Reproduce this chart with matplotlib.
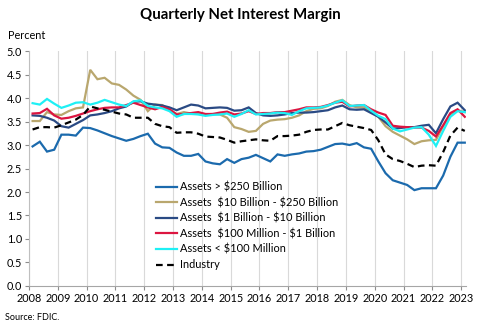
import matplotlib.pyplot as plt
import numpy as np

plt.rcParams['font.family'] = ['Lato', 'DejaVu Sans']
plt.rcParams['text.parse_math'] = False

# quarterly net interest margin (%), 2008Q1 .. 2023Q1
over_250b = [2.97, 3.07, 2.86, 2.90, 3.22, 3.22, 3.20, 3.37, 3.36, 3.31, 3.25, 3.19,
             3.14, 3.09, 3.13, 3.19, 3.24, 3.03, 2.95, 2.94, 2.84, 2.77, 2.77, 2.81,
             2.65, 2.61, 2.59, 2.70, 2.62, 2.70, 2.73, 2.79, 2.72, 2.65, 2.80, 2.77,
             2.80, 2.82, 2.86, 2.87, 2.90, 2.96, 3.02, 3.03, 3.00, 3.04, 2.95, 2.92,
             2.65, 2.40, 2.25, 2.20, 2.15, 2.04, 2.08, 2.08, 2.08, 2.35, 2.75, 3.05, 3.05]
b10_250 = [3.51, 3.51, 3.70, 3.65, 3.64, 3.72, 3.78, 3.80, 4.60, 4.40, 4.43, 4.31,
           4.28, 4.18, 4.05, 3.96, 3.72, 3.86, 3.85, 3.75, 3.66, 3.70, 3.67, 3.66,
           3.65, 3.66, 3.65, 3.58, 3.38, 3.34, 3.28, 3.30, 3.45, 3.52, 3.54, 3.55,
           3.58, 3.63, 3.72, 3.77, 3.78, 3.83, 3.92, 3.96, 3.85, 3.80, 3.80, 3.72,
           3.60, 3.40, 3.28, 3.20, 3.12, 3.02, 3.08, 3.10, 3.11, 3.40, 3.65, 3.74, 3.70]
b1_10 = [3.63, 3.62, 3.58, 3.52, 3.40, 3.37, 3.45, 3.53, 3.63, 3.65, 3.68, 3.72,
         3.78, 3.82, 3.92, 3.93, 3.88, 3.86, 3.84, 3.80, 3.74, 3.80, 3.86, 3.84,
         3.78, 3.79, 3.80, 3.79, 3.73, 3.74, 3.80, 3.68, 3.63, 3.62, 3.63, 3.65,
         3.68, 3.69, 3.69, 3.70, 3.72, 3.74, 3.80, 3.84, 3.76, 3.75, 3.76, 3.68,
         3.60, 3.48, 3.35, 3.36, 3.38, 3.38, 3.41, 3.43, 3.25, 3.55, 3.82, 3.90, 3.74]
m100_1b = [3.67, 3.68, 3.77, 3.63, 3.56, 3.58, 3.62, 3.67, 3.72, 3.76, 3.79, 3.80,
           3.80, 3.85, 3.90, 3.85, 3.80, 3.76, 3.81, 3.76, 3.65, 3.66, 3.68, 3.70,
           3.66, 3.66, 3.69, 3.71, 3.65, 3.67, 3.72, 3.66, 3.68, 3.68, 3.70, 3.70,
           3.73, 3.76, 3.80, 3.80, 3.81, 3.85, 3.90, 3.92, 3.82, 3.84, 3.85, 3.76,
           3.69, 3.64, 3.41, 3.39, 3.38, 3.37, 3.37, 3.30, 3.18, 3.42, 3.68, 3.76, 3.60]
under_100m = [3.89, 3.86, 3.98, 3.88, 3.79, 3.84, 3.90, 3.91, 3.86, 3.90, 3.96, 3.91,
              3.86, 3.83, 3.93, 3.95, 3.83, 3.80, 3.78, 3.72, 3.60, 3.66, 3.66, 3.65,
              3.62, 3.64, 3.65, 3.67, 3.60, 3.66, 3.74, 3.65, 3.66, 3.67, 3.69, 3.68,
              3.64, 3.72, 3.78, 3.79, 3.80, 3.84, 3.90, 3.95, 3.83, 3.84, 3.85, 3.73,
              3.62, 3.55, 3.35, 3.29, 3.33, 3.37, 3.38, 3.22, 2.98, 3.30, 3.60, 3.72, 3.70]
industry = [3.33, 3.38, 3.38, 3.37, 3.42, 3.48, 3.54, 3.64, 3.82, 3.78, 3.75, 3.71,
            3.67, 3.65, 3.58, 3.58, 3.58, 3.45, 3.40, 3.38, 3.26, 3.27, 3.27, 3.24,
            3.18, 3.17, 3.16, 3.11, 3.05, 3.08, 3.10, 3.12, 3.10, 3.09, 3.19, 3.19,
            3.20, 3.22, 3.28, 3.32, 3.33, 3.33, 3.40, 3.47, 3.42, 3.39, 3.36, 3.32,
            3.10, 2.80, 2.70, 2.66, 2.60, 2.53, 2.56, 2.57, 2.56, 2.85, 3.20, 3.37, 3.30]

labels = ["Assets > $250 Billion",
          "Assets  $10 Billion - $250 Billion",
          "Assets  $1 Billion - $10 Billion",
          "Assets  $100 Million - $1 Billion",
          "Assets < $100 Million",
          "Industry"]
colors = ["#1b6aad", "#b9a76e", "#2a4a84", "#dc1540", "#1ef0f5", "black"]
years = list(range(2008, 2024))

x = 2008 + (np.arange(len(industry)) + 0.5) / 4

fig = plt.figure(figsize=(4.8, 3.27), dpi=100)
ax = fig.add_axes([0.0604, 0.1254, 0.9106, 0.7186])

series = [over_250b, b10_250, b1_10, m100_1b, under_100m]
for vals, lab, col in zip(series, labels[:5], colors[:5]):
    ax.plot(x, vals, color=col, lw=1.6, label=lab, solid_joinstyle="miter")
ax.plot(x, industry, color=colors[5], lw=1.6, ls=(0, (3, 2)), label=labels[5])

ax.set_xlim(2008, 2023.17)
ax.set_ylim(0, 5)
ax.set_xticks(years)
ax.set_xticklabels([str(y) for y in years])
ax.set_yticks(np.arange(0, 5.01, 0.5))
ax.set_yticklabels([f"{v:.1f}" for v in np.arange(0, 5.01, 0.5)])
ax.tick_params(labelsize=7.8, colors="#8c8c8c", labelcolor="black",
               length=3, width=0.8, pad=2)
ax.grid(axis="x", color="#d9d9d9", lw=0.8)
ax.set_axisbelow(True)
for side in ("top", "right"):
    ax.spines[side].set_visible(False)
ax.spines["left"].set_color("#bfbfbf")
ax.spines["bottom"].set_color("#a6a6a6")

ax.legend(loc="upper left", bbox_to_anchor=(0.29, 0.445), frameon=False,
          fontsize=7.9, handlelength=1.9, handletextpad=0.3,
          labelspacing=0.42, borderaxespad=0, borderpad=0)

fig.text(0.5, 0.955, "Quarterly Net Interest Margin", ha="center", va="center",
         fontsize=10.8, fontweight="bold")
fig.text(0.016, 0.89, "Percent", ha="left", va="center", fontsize=7.8)
fig.text(0.01, 0.028, "Source: FDIC.", ha="left", va="center", fontsize=6.5)

fig.savefig("out.png", dpi=100)
